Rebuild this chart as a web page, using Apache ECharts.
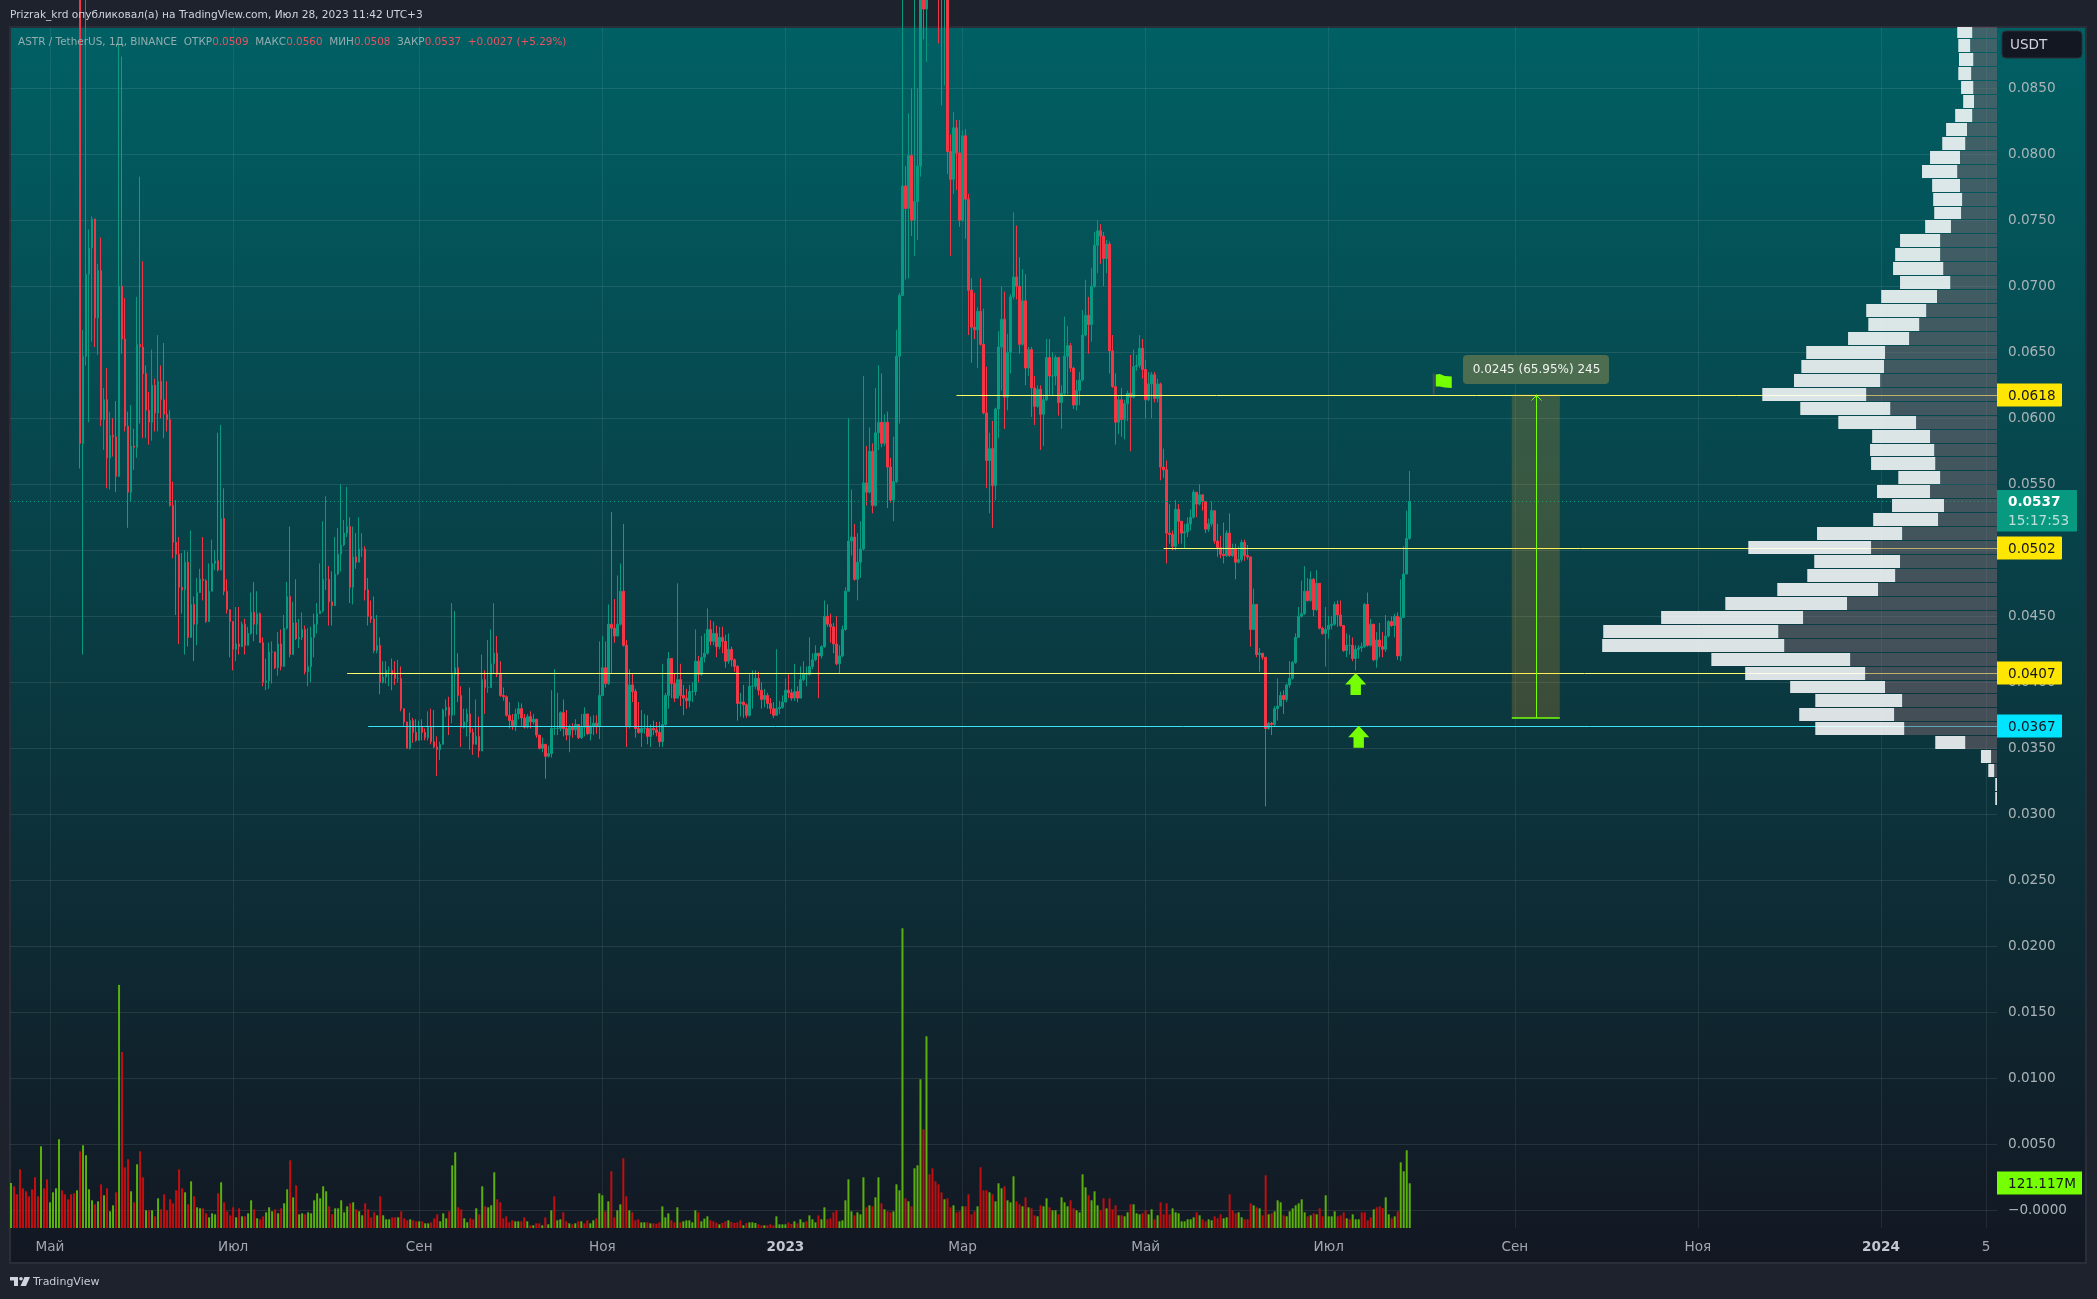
<!DOCTYPE html>
<html><head><meta charset="utf-8">
<style>html,body{margin:0;padding:0;background:#1e222d}#c{width:2097px;height:1299px}</style>
<script src="https://cdn.jsdelivr.net/npm/echarts@6/dist/echarts.min.js"></script>
</head><body><div id="c"></div>
<script>
const DAY=86400000, firstDay='2022-04-18', firstCandleIndex=23, firstOpen=1100, priceUnit=1e-4, volumeUnit=0.9033;
const closes=[
581,647,709,729,751,676,712,599,614,570,
587,586,556,700,660,594,544,579,578,656,
654,634,606,597,625,604,628,614,603,599,
534,506,497,472,470,491,434,459,444,468,
478,477,446,469,490,492,485,524,469,455,
446,425,429,427,444,428,437,453,444,452,
430,400,401,423,423,411,429,412,441,465,
421,445,433,434,440,408,412,434,444,452,
454,478,478,461,458,482,497,504,513,518,
472,495,491,501,501,470,450,448,424,428,
400,404,409,409,406,403,403,380,370,350,
371,362,356,366,362,358,366,355,351,349,
353,379,381,375,406,411,390,366,370,376,
362,353,359,348,402,396,396,414,422,406,
390,389,375,371,367,376,380,373,366,374,
370,372,360,350,353,344,346,365,365,365,
377,365,360,366,364,368,358,366,376,361,
367,369,367,390,411,399,444,441,435,444,
469,428,367,398,393,365,362,365,365,359,
365,364,362,355,368,390,418,399,388,402,
390,388,386,393,393,416,406,419,422,440,
431,437,427,434,431,416,425,417,412,384,
385,383,375,397,397,403,394,387,390,384,
380,375,380,381,385,394,392,388,393,388,
402,406,406,412,417,422,420,427,450,444,
442,429,414,420,440,469,507,510,478,491,
501,551,544,575,534,589,597,581,597,563,
538,552,647,693,776,759,799,750,764,791,
950,910,1000,1100,1200,1300,1100,1000,1050,802,
781,820,801,750,814,766,697,669,667,681,
656,604,568,577,549,607,654,675,616,650,
692,707,700,656,689,638,652,623,609,622,
603,614,646,632,632,646,612,619,647,655,
638,610,621,629,663,678,671,700,731,742,
738,721,732,651,624,597,614,599,611,619,
616,639,640,653,637,614,626,633,615,626,
563,561,513,512,503,531,522,513,514,520,
525,544,535,542,537,516,520,530,507,502,
497,496,513,496,501,491,493,506,496,495,
440,459,421,422,419,365,369,368,380,382,
390,387,398,403,415,434,450,452,469,462,
478,455,475,441,437,440,443,444,459,451,
443,424,428,428,418,425,426,427,459,428,
444,417,432,427,425,435,446,443,450,420,
449,482,509,537];
const highs=[
1150,667,930,743,753,748,717,737,623,638,
605,600,613,884,874,691,605,610,592,692,
783,719,640,620,652,630,663,640,657,628,
606,552,538,510,498,500,499,515,465,479,
486,510,478,490,508,500,589,595,547,478,
455,446,457,457,446,448,442,468,476,469,
453,434,418,430,431,423,438,440,451,476,
518,461,478,448,453,443,441,442,452,460,
490,522,541,488,484,510,517,550,523,548,
525,518,513,525,513,503,479,462,465,451,
434,416,416,412,418,416,417,412,380,369,
377,373,372,371,372,365,378,380,379,359,
355,380,387,389,460,454,422,397,380,380,
396,365,387,374,421,409,432,440,460,435,
416,396,390,385,376,380,385,384,376,376,
378,376,371,360,358,353,352,394,410,392,
378,387,379,368,369,372,368,376,381,376,
374,375,375,431,435,431,459,529,463,481,
490,520,432,410,407,395,385,379,376,375,
368,371,370,370,414,392,423,418,407,475,
414,398,395,398,400,440,420,435,437,456,
447,446,443,442,442,436,437,427,418,413,
392,398,384,407,409,409,408,400,395,392,
388,385,425,386,390,403,406,395,414,397,
412,416,412,434,422,428,422,428,462,459,
452,445,450,428,443,472,600,546,520,513,
522,632,579,593,581,623,640,634,603,605,
570,586,667,695,930,791,831,850,930,850,
1000,1100,1050,1150,1300,1400,1350,1150,1100,1080,
815,832,826,826,818,819,770,706,695,684,
706,683,639,589,598,608,666,700,696,664,
694,756,746,722,713,709,654,654,632,625,
625,618,660,660,650,648,646,625,677,670,
657,639,629,635,682,705,692,714,741,750,
747,741,735,734,663,634,617,623,614,621,
648,652,648,663,660,644,635,635,635,630,
627,577,568,535,515,538,535,522,520,525,
531,546,544,550,542,537,524,537,530,520,
511,521,515,528,505,505,503,508,508,504,
495,471,459,426,422,419,370,370,382,403,
393,394,399,416,416,437,457,477,488,479,
484,479,485,475,442,457,450,450,461,462,
462,443,437,436,434,428,428,430,460,468,
448,440,438,445,438,451,447,450,452,453,
478,503,530,560];
const lows=[
562,421,640,597,658,654,648,594,576,547,
546,571,544,557,649,590,517,537,561,570,
596,585,585,580,583,590,590,600,585,590,
533,494,451,429,452,421,427,434,416,428,
470,462,445,447,470,485,484,485,466,452,
419,409,416,421,427,421,428,436,431,436,
430,397,394,395,399,410,405,409,412,440,
419,421,432,426,432,406,397,400,419,437,
452,453,470,443,443,458,481,484,503,510,
460,459,486,491,495,462,443,445,422,422,
391,399,399,397,394,398,400,378,367,350,
349,354,355,356,356,356,356,353,350,329,
341,353,374,360,369,375,385,351,365,359,
349,345,353,343,349,376,392,396,407,404,
389,386,374,365,364,363,372,367,365,365,
365,368,358,349,347,327,343,343,360,360,
363,359,356,347,358,360,357,357,359,360,
356,360,361,357,390,396,398,407,430,435,
443,427,351,365,385,358,361,351,361,353,
351,360,359,351,351,367,380,388,385,389,
382,375,380,381,385,390,400,405,415,421,
428,428,419,425,422,411,414,412,408,371,
374,373,373,374,380,395,390,380,381,380,
376,373,375,376,380,385,388,386,386,385,
388,401,397,405,410,416,388,418,426,442,
430,422,413,407,419,439,469,496,477,462,
479,500,534,543,528,533,576,578,579,532,
536,522,551,596,693,705,706,738,723,735,
783,887,870,1000,1100,1200,884,837,852,785,
723,770,773,745,749,736,663,642,660,638,
655,603,547,528,517,538,585,621,592,606,
634,690,690,649,655,625,632,601,595,608,
576,579,613,617,617,625,602,592,617,618,
635,607,606,610,628,662,649,658,699,710,
717,700,710,634,623,580,588,586,584,598,
575,615,636,638,630,600,613,600,612,612,
553,555,490,505,500,500,505,505,501,510,
515,524,525,534,530,513,514,518,505,495,
494,490,495,495,495,478,490,491,492,493,
427,440,419,408,417,306,364,360,367,371,
382,376,385,396,402,414,434,449,451,461,
461,450,454,440,436,412,433,440,443,442,
442,423,419,421,416,409,418,423,426,427,
427,416,411,419,419,423,434,442,434,417,
416,449,483,508];
// signed: positive = green bar, negative = red bar
const volumes=[
135,-125,-101,-176,-119,-110,-95,-116,-152,-95,
245,-119,-146,77,107,119,266,-113,-101,-86,
-101,-104,113,-230,248,218,116,83,-71,80,
-131,98,-119,50,68,-107,729,-528,-182,-206,
110,-77,191,-230,-152,53,-53,53,-35,89,
-56,-101,-53,-86,-74,-113,-176,-119,107,-71,
140,-95,62,59,-59,-44,32,44,41,-104,
137,-77,-50,-38,-62,32,-59,35,-35,44,
83,-56,29,-26,-35,47,62,50,-56,44,
-59,74,116,-203,92,-128,41,44,-41,47,
44,83,104,89,125,110,-65,-41,59,59,
83,47,65,-74,77,-56,50,38,-74,-56,
-32,-47,38,-95,38,26,26,-32,-32,32,
-50,-29,-23,26,-23,-20,20,-20,14,14,
-17,-29,-41,20,44,29,-50,188,227,-62,
-56,29,17,-29,-26,59,-41,125,-65,62,
68,167,-86,-77,-29,-35,-17,-23,20,20,
-20,-32,20,-8,8,-14,-14,8,-32,11,
53,-95,23,26,-47,-20,14,-11,14,-20,
20,-14,-23,14,23,-29,104,98,-50,80,
-170,-32,53,71,-209,-95,53,-47,-23,-26,
17,17,-17,14,-14,-13,-17,65,32,44,
-23,-17,62,-17,20,23,23,17,53,-47,
20,28,35,-23,-20,-16,11,-15,-20,23,
-18,-15,-17,-23,8,-15,17,17,15,-11,
-8,8,-8,-11,-8,35,11,11,11,-17,
-12,20,-14,26,17,-20,38,26,17,-38,
26,62,-26,-29,-47,-53,20,23,83,146,
50,-38,47,41,152,-62,68,-65,92,152,
-74,56,-50,-47,50,131,113,899,-89,80,
-65,179,188,446,-296,575,-161,-179,-140,-131,
-107,86,-89,-62,68,-47,-50,65,-65,-101,
-41,-50,65,-182,-113,-113,107,-101,80,134,
119,-125,83,77,155,-80,-71,65,-92,62,
-59,-38,35,-68,65,89,-62,53,53,-41,
92,77,65,-83,-59,53,47,161,122,-98,
83,110,68,-53,-89,59,-89,-56,-68,38,
-38,35,47,-71,71,44,41,-44,-53,41,
56,-26,38,-77,-41,-74,-41,59,47,44,
20,20,26,26,32,-47,38,-26,-20,26,
23,-35,-29,-41,29,32,-101,-53,-44,47,
32,-26,-26,-74,68,-62,59,-38,-158,41,
-44,50,83,77,-38,35,50,59,68,74,
86,47,-35,38,-44,41,-59,-35,98,35,
35,50,-35,-38,-47,29,-26,41,26,26,
-47,-47,-23,-32,56,-62,-65,-60,92,41,
-29,35,-50,197,170,233,134];
// volume profile rows, top to bottom
const profileTotal=[114,111,109,111,103,97,120,146,157,192,215,186,183,180,206,278,292,298,278,332,375,369,427,547,561,582,673,564,455,358,364,361,283,344,301,355,516,713,524,544,630,779,963,1129,1132,819,722,593,521,567,521,177,46,25,5,5];
const profileDown=[71,77,68,74,68,66,71,86,91,106,114,106,100,103,132,163,163,154,134,172,203,223,252,321,324,335,375,306,232,192,180,177,163,192,152,169,272,361,278,292,341,430,556,627,610,421,378,321,272,295,266,91,17,8,0,0];
const profileBottomPrice=0.03063, profileStep=0.001056;
const levelPrices=[0.0618,0.0502,0.0407,0.0367];
const levelStarts=['2023-02-27','2023-05-07','2022-08-08','2022-08-15'];
const levelColors=['#ffff66','#ffff66','#ffff66','#3be3f7'];
const tagColors=['#ffe600','#ffe600','#ffe600','#00e5ff'];
const lastPrice=0.0537, lastCountdown='15:17:53', lastVolume=121.117;
const yTicks=[0,0.005,0.01,0.015,0.02,0.025,0.03,0.035,0.04,0.045,0.05,0.055,0.06,0.065,0.07,0.075,0.08,0.085];
const xTickDates=['2022-05-01','2022-07-01','2022-09-01','2022-11-01','2023-01-01','2023-03-01','2023-05-01','2023-07-01','2023-09-01','2023-11-01','2024-01-01','2024-02-05'];
const xTickLabels=['Май','Июл','Сен','Ноя','2023','Мар','Май','Июл','Сен','Ноя','2024','5'];
const arrowMarks=[['2023-07-10',0.0407],['2023-07-11',0.0367]];
const flagMark=['2023-08-05',0.0618];
const measure={start:'2023-08-31',end:'2023-09-16',low:0.0373,high:0.0618,label:'0.0245 (65.95%) 245'};

const t0=Date.parse(firstDay);
const xMin=t0-0.33*DAY, xMax=t0+661.65*DAY;
const yMin=-0.00134, yMax=0.08964;
const volMax=3253;
const FONT='"DejaVu Sans"';
const ms=s=>Date.parse(s);
const xTicks=xTickDates.map(ms);
const labelByTime={}; xTicks.forEach((t,i)=>labelByTime[t]=xTickLabels[i]);

const candleData=closes.map((c,k)=>{
  const o=k===0?firstOpen:closes[k-1];
  return [t0+(firstCandleIndex+k)*DAY,o*priceUnit,c*priceUnit,lows[k]*priceUnit,highs[k]*priceUnit];
});
const volData=volumes.map((v,i)=>({value:[t0+i*DAY,Math.abs(v)*volumeUnit],itemStyle:{color:v>=0?'#5bb00c':'#c10f10'}}));

const GREEN='#76ff03';
const grid={left:10,right:100,top:27,height:1201,containLabel:false};

const option={
 animation:false,backgroundColor:'#1e222d',
 textStyle:{fontFamily:FONT},
 tooltip:{show:false},
 grid,
 xAxis:[{
   type:'value',min:xMin,max:xMax,scale:true,
   axisLine:{show:false},
   axisTick:{show:false,customValues:xTicks},
   splitLine:{show:true,customValues:xTicks,lineStyle:{color:'rgba(255,255,255,0.075)',width:1}},
   axisLabel:{customValues:xTicks,margin:12,fontFamily:FONT,fontSize:13.6,color:'#a3a6af',hideOverlap:false,
     formatter:v=>{const s=labelByTime[v]||'';return /^\d{4}$/.test(s)?'{b|'+s+'}':s;},
     rich:{b:{fontWeight:'bold',fontFamily:FONT,fontSize:13.6,color:'#c3c6cf'}}}
 },{type:'value',show:false,inverse:true,min:0,max:5697}],
 yAxis:[{
   type:'value',position:'right',min:yMin,max:yMax,scale:true,
   axisLine:{show:false},
   axisTick:{show:false,customValues:yTicks},
   splitLine:{show:true,customValues:yTicks,lineStyle:{color:'rgba(255,255,255,0.095)',width:1}},
   axisLabel:{customValues:yTicks,margin:11,align:'left',padding:[2,0,0,0],fontFamily:FONT,fontSize:13.6,color:'#a9b3b8',
     formatter:v=>Math.abs(v)<1e-9?'\u22120.0000':v.toFixed(4)}
 },{type:'value',show:false,min:0,max:volMax,position:'left'}],
 graphic:{elements:[
  {type:'rect',z:-100,silent:true,shape:{x:10,y:27,width:2076,height:1236},
   style:{fill:new echarts.graphic.LinearGradient(0,0,0,1,[{offset:0,color:'#006064'},{offset:1,color:'#131722'}]),stroke:'#2a2e39',lineWidth:2}},
  {type:'text',z:50,silent:true,style:{x:10,y:15,text:'Prizrak_krd опубликовал(а) на TradingView.com, Июл 28, 2023 11:42 UTC+3',fill:'#d1d4dc',font:'10.6px '+FONT,textVerticalAlign:'middle'}},
  {type:'text',z:50,silent:true,style:{x:18,y:42,textVerticalAlign:'middle',font:'10.45px '+FONT,fill:'#93adb0',
     text:'ASTR / TetherUS, 1Д, BINANCE  ОТКР{r|0.0509}  МАКС{r|0.0560}  МИН{r|0.0508}  ЗАКР{r|0.0537}  {r|+0.0027 (+5.29%)}',
     rich:{r:{fill:'#e8525f',font:'10.45px '+FONT}}}},
  {type:'rect',z:50,silent:true,shape:{x:2002,y:31,width:80,height:27,r:4},style:{fill:'#131722',stroke:'#2a2e39',lineWidth:1}},
  {type:'text',z:51,silent:true,style:{x:2010,y:45,text:'USDT',fill:'#d1d4dc',font:'13.6px '+FONT,textVerticalAlign:'middle'}},
  {type:'polygon',z:50,silent:true,shape:{points:[[10,1277],[18,1277],[18,1286],[14,1286],[14,1280.5],[10,1280.5]]},style:{fill:'#d1d4dc'}},
  {type:'circle',z:50,silent:true,shape:{cx:21,cy:1278.8,r:1.8},style:{fill:'#d1d4dc'}},
  {type:'polygon',z:50,silent:true,shape:{points:[[24.5,1277],[30,1277],[26,1286],[20.5,1286]]},style:{fill:'#d1d4dc'}},
  {type:'text',z:50,silent:true,style:{x:33,y:1282,text:'TradingView',fill:'#c8cbd3',font:'11px '+FONT,textVerticalAlign:'middle'}}
 ]},
 series:[
  {type:'bar',name:'Volume',xAxisIndex:0,yAxisIndex:1,barWidth:2,data:volData,z:2,silent:true},
  {type:'candlestick',name:'ASTRUSDT',xAxisIndex:0,yAxisIndex:0,barWidth:2,data:candleData,z:3,silent:true,large:false,
   itemStyle:{color:'#089981',color0:'#f23645',borderColor:'#089981',borderColor0:'#f23645',borderColorDoji:'#089981',borderWidth:1}},
  // levels + last price dotted line
  {type:'custom',name:'Levels',xAxisIndex:0,yAxisIndex:0,z:4,silent:true,clip:true,
   data:levelPrices.map((p,i)=>[ms(levelStarts[i]),xMax,p]).concat([[xMin,xMax,lastPrice]]),
   encode:{x:[0,1],y:2},
   renderItem:(pr,api)=>{
     const a=api.coord([api.value(0),api.value(2)]),b=api.coord([api.value(1),api.value(2)]);
     const dotted=pr.dataIndex===levelPrices.length;
     const y=Math.round(a[1])+0.5;
     return {type:'line',shape:{x1:a[0],y1:y,x2:b[0],y2:y},
       style:dotted?{stroke:'#089981',lineWidth:1,lineDash:[1,3]}:{stroke:levelColors[pr.dataIndex],lineWidth:1}};
   }},
  // measure tool
  {type:'custom',name:'Measure',xAxisIndex:0,yAxisIndex:0,z:4,silent:true,clip:false,
   data:[[ms(measure.start),ms(measure.end),measure.low,measure.high]],encode:{x:[0,1],y:[2,3]},
   renderItem:(pr,api)=>{
     const a=api.coord([api.value(0),api.value(2)]),b=api.coord([api.value(1),api.value(3)]);
     const cx=Math.round((a[0]+b[0])/2)+0.5;
     return {type:'group',children:[
       {type:'rect',shape:{x:a[0],y:b[1],width:b[0]-a[0],height:a[1]-b[1]},style:{fill:'rgba(255,165,30,0.2)'}},
       {type:'line',shape:{x1:a[0],y1:a[1],x2:b[0],y2:a[1]},style:{stroke:GREEN,lineWidth:1.5}},
       {type:'line',shape:{x1:cx,y1:a[1],x2:cx,y2:b[1]},style:{stroke:GREEN,lineWidth:1}},
       {type:'polyline',shape:{points:[[cx-5,b[1]+6],[cx,b[1]+1],[cx+5,b[1]+6]]},style:{stroke:GREEN,lineWidth:1,fill:'none'}},
       {type:'rect',shape:{x:cx-73.5,y:b[1]-39.5,width:146,height:29,r:4},style:{fill:'#4c6d50'}},
       {type:'text',style:{x:cx,y:b[1]-25,text:measure.label,fill:'#f0f3f0',font:'12px '+FONT,textAlign:'center',textVerticalAlign:'middle'}}
     ]};
   }},
  // arrows
  {type:'custom',name:'Arrows',xAxisIndex:0,yAxisIndex:0,z:5,silent:true,clip:false,
   data:arrowMarks.map(m=>[ms(m[0]),m[1]]),encode:{x:0,y:1},
   renderItem:(pr,api)=>{
     const p=api.coord([api.value(0),api.value(1)]);const x=p[0],y=p[1];
     return {type:'polygon',shape:{points:[[x,y],[x+10.5,y+11.5],[x+5.2,y+11.5],[x+5.2,y+22],[x-5.2,y+22],[x-5.2,y+11.5],[x-10.5,y+11.5]]},style:{fill:GREEN}};
   }},
  // flag
  {type:'custom',name:'Flag',xAxisIndex:0,yAxisIndex:0,z:5,silent:true,clip:false,
   data:[[ms(flagMark[0]),flagMark[1]]],encode:{x:0,y:1},
   renderItem:(pr,api)=>{
     const p=api.coord([api.value(0),api.value(1)]);const x=p[0],y=p[1];
     return {type:'group',children:[
       {type:'rect',shape:{x:x-1,y:y-21,width:2,height:21},style:{fill:'#41515a'}},
       {type:'polygon',shape:{points:[[x+2,y-20],[x+6,y-20.5],[x+11,y-18.5],[x+18,y-18],[x+18,y-6.5],[x+11,y-7],[x+6,y-8],[x+2,y-8]]},style:{fill:GREEN}}
     ]};
   }},
  // volume profile
  {type:'custom',name:'Profile',xAxisIndex:1,yAxisIndex:0,z:6,silent:true,clip:true,
   data:profileTotal.map((t,i)=>[t,profileDown[i],profileBottomPrice+profileStep*(profileTotal.length-1-i),profileBottomPrice+profileStep*(profileTotal.length-i)]),
   encode:{x:[0,1],y:[2,3]},
   renderItem:(pr,api)=>{
     const lo=api.coord([api.value(0),api.value(2)]),hi=api.coord([api.value(1),api.value(3)]),base=api.coord([0,api.value(3)]);
     const top=Math.round(hi[1]),h=Math.round(lo[1])-top-1;
     return {type:'group',children:[
       {type:'rect',shape:{x:hi[0],y:top,width:base[0]-hi[0],height:h},style:{fill:'rgba(126,102,112,0.5)'}},
       {type:'rect',shape:{x:lo[0],y:top,width:hi[0]-lo[0],height:h},style:{fill:'rgba(255,255,255,0.86)'}}
     ]};
   }},
  // price tags
  {type:'custom',name:'Tags',xAxisIndex:0,yAxisIndex:0,z:8,silent:true,clip:false,
   data:levelPrices.map(p=>[xMax,p]),encode:{x:0,y:1},
   renderItem:(pr,api)=>{
     const p=api.coord([api.value(0),api.value(1)]);const y=Math.round(p[1]);
     return {type:'group',children:[
       {type:'rect',shape:{x:p[0],y:y-11.5,width:65,height:23,r:[0,1,1,0]},style:{fill:tagColors[pr.dataIndex]}},
       {type:'text',style:{x:p[0]+11,y:y+1,text:api.value(1).toFixed(4),fill:'#131722',font:'13.6px '+FONT,textVerticalAlign:'middle'}}
     ]};
   }},
  {type:'custom',name:'LastTag',xAxisIndex:0,yAxisIndex:0,z:8,silent:true,clip:false,
   data:[[xMax,lastPrice]],encode:{x:0,y:1},
   renderItem:(pr,api)=>{
     const p=api.coord([api.value(0),api.value(1)]);const y=Math.round(p[1]);
     return {type:'group',children:[
       {type:'rect',shape:{x:p[0],y:y-11,width:80,height:41.5,r:[0,1,1,0]},style:{fill:'#089981'}},
       {type:'text',style:{x:p[0]+11,y:y+1,text:lastPrice.toFixed(4),fill:'#ffffff',font:'bold 13.6px '+FONT,textVerticalAlign:'middle'}},
       {type:'text',style:{x:p[0]+11,y:y+20,text:lastCountdown,fill:'#b8e0d8',font:'13.6px '+FONT,textVerticalAlign:'middle'}}
     ]};
   }},
  {type:'custom',name:'VolTag',xAxisIndex:0,yAxisIndex:1,z:8,silent:true,clip:false,
   data:[[xMax,lastVolume]],encode:{x:0,y:1},
   renderItem:(pr,api)=>{
     const p=api.coord([api.value(0),api.value(1)]);const y=Math.round(p[1]);
     return {type:'group',children:[
       {type:'rect',shape:{x:p[0],y:y-11.5,width:85,height:23},style:{fill:GREEN}},
       {type:'text',style:{x:p[0]+11,y:y+1,text:lastVolume.toFixed(3)+'M',fill:'#131722',font:'13.6px '+FONT,textVerticalAlign:'middle'}}
     ]};
   }}
 ]
};
const chart=echarts.init(document.getElementById('c'),null,{renderer:'canvas'});
chart.setOption(option);
</script></body></html>
